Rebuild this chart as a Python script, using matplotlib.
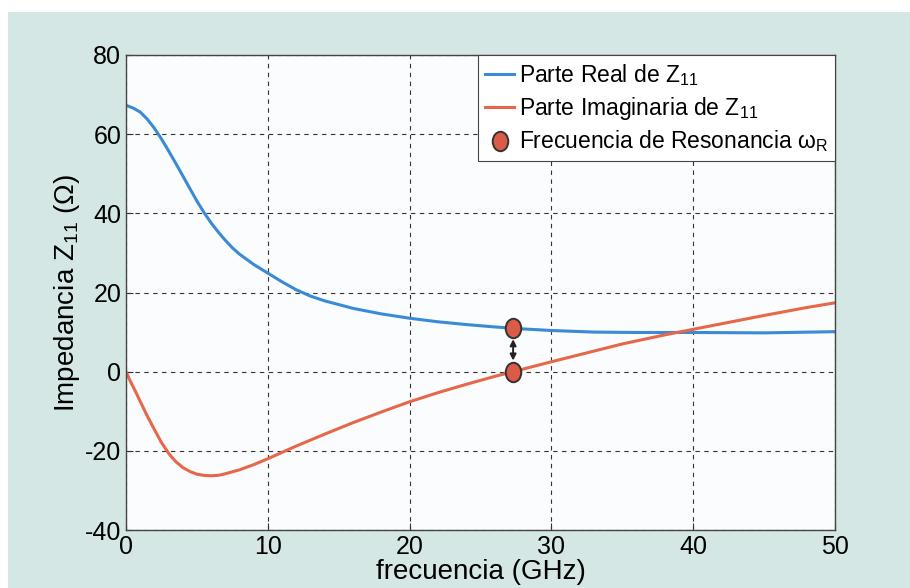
import numpy as np
import matplotlib.pyplot as plt
from matplotlib.patches import Rectangle
from matplotlib.path import Path
from matplotlib.transforms import Affine2D

plt.rcParams['font.family'] = ['Liberation Sans', 'DejaVu Sans']
plt.rcParams['mathtext.fontset'] = 'custom'
plt.rcParams['mathtext.rm'] = 'Liberation Sans'
plt.rcParams['mathtext.it'] = 'Liberation Sans'
plt.rcParams['axes.unicode_minus'] = False

# frequency samples (GHz) and real part of Z11 (ohm)
freq_re = [0, 0.5, 1, 1.5, 2, 2.5, 3, 3.5, 4, 4.5, 5, 5.5, 6, 6.5, 7, 7.5, 8, 9,
           10, 11, 12, 13, 14, 16, 18, 20, 22, 24, 26, 28, 30, 33, 36, 40, 45, 50]
z_real = [67.3, 66.6, 65.6, 63.8, 61.5, 58.8, 55.8, 52.7, 49.5, 46.3, 43.1, 40.2,
          37.6, 35.3, 33.2, 31.3, 29.7, 27.1, 24.9, 22.7, 20.7, 19.1, 17.9, 16.0,
          14.6, 13.5, 12.6, 11.9, 11.3, 10.8, 10.4, 10.0, 9.9, 9.9, 9.8, 10.1]

# imaginary part of Z11 (ohm)
freq_im = [0, 0.25, 0.5, 0.75, 1, 1.5, 2, 2.5, 3, 3.5, 4, 4.5, 5, 5.5, 6, 6.5, 7,
           8, 9, 10, 11, 12, 13, 14, 16, 18, 20, 22, 24, 26, 27.3, 30, 32, 35, 38,
           40, 42, 45, 48, 50]
z_imag = [0, -2.0, -3.8, -5.6, -7.5, -11.2, -14.6, -17.9, -20.6, -22.7, -24.2,
          -25.2, -25.9, -26.2, -26.3, -26.2, -25.8, -24.8, -23.5, -22.0, -20.4,
          -18.8, -17.3, -15.8, -12.9, -10.2, -7.6, -5.3, -3.2, -1.2, 0, 2.5, 4.3,
          7.0, 9.3, 10.7, 12.1, 14.2, 16.2, 17.4]

# resonance frequency and the two values marked there
f_res = 27.3
res_vals = [11, 0]

# slightly tall ellipse for the resonance markers
ellipse = Path.unit_circle().transformed(Affine2D().scale(0.8, 1.0))

fig = plt.figure(figsize=(9.1, 5.88), dpi=100, facecolor='white')
fig.patches.append(Rectangle((8 / 910, 0), 1, 1 - 12 / 588, transform=fig.transFigure,
                             facecolor='#d4e7e4', edgecolor='none', zorder=-1))

ax = fig.add_axes([126 / 910, 58 / 588, 709 / 910, 475 / 588])
ax.set_facecolor('#fbfcfd')

ax.plot(freq_re, z_real, color='#3a8ad6', lw=2.2, label='Parte Real de Z$_{11}$')
ax.plot(freq_im, z_imag, color='#e5684a', lw=2.2, label='Parte Imaginaria de Z$_{11}$')
ax.annotate('', xy=(f_res, res_vals[1] + 2.1), xytext=(f_res, res_vals[0] - 2.1),
            arrowprops=dict(arrowstyle='<|-|>', color='#222222', lw=1.4,
                            mutation_scale=9))
ax.plot([f_res] * 2, res_vals, marker=ellipse, ls='none', ms=14, mfc='#dc5a48',
        mec='#333333', mew=1.4, label='Frecuencia de Resonancia $\\omega_R$')

ax.set_xlim(0, 50)
ax.set_ylim(-40, 80)
ax.set_xticks([0, 10, 20, 30, 40, 50])
ax.set_yticks([-40, -20, 0, 20, 40, 60, 80])
ax.grid(True, ls=(0, (4, 4)), color='#333333', lw=0.8)
ax.tick_params(direction='in', labelsize=18, length=5, color='#333333')
for s in ax.spines.values():
    s.set_color('#444444')
    s.set_linewidth(1.0)

ax.set_xlabel('frecuencia (GHz)', fontsize=20, labelpad=0)
ax.set_ylabel('Impedancia Z$_{11}$ ($\\Omega$)', fontsize=20, labelpad=2)

leg = ax.legend(loc='upper right', fontsize=16.5, handlelength=1.3, handletextpad=0.2,
                borderpad=0.3, labelspacing=0.3, fancybox=False, framealpha=1,
                edgecolor='#444444', borderaxespad=0)
leg.get_frame().set_linewidth(0.8)

fig.savefig('out.png', dpi=100, facecolor=fig.get_facecolor())
